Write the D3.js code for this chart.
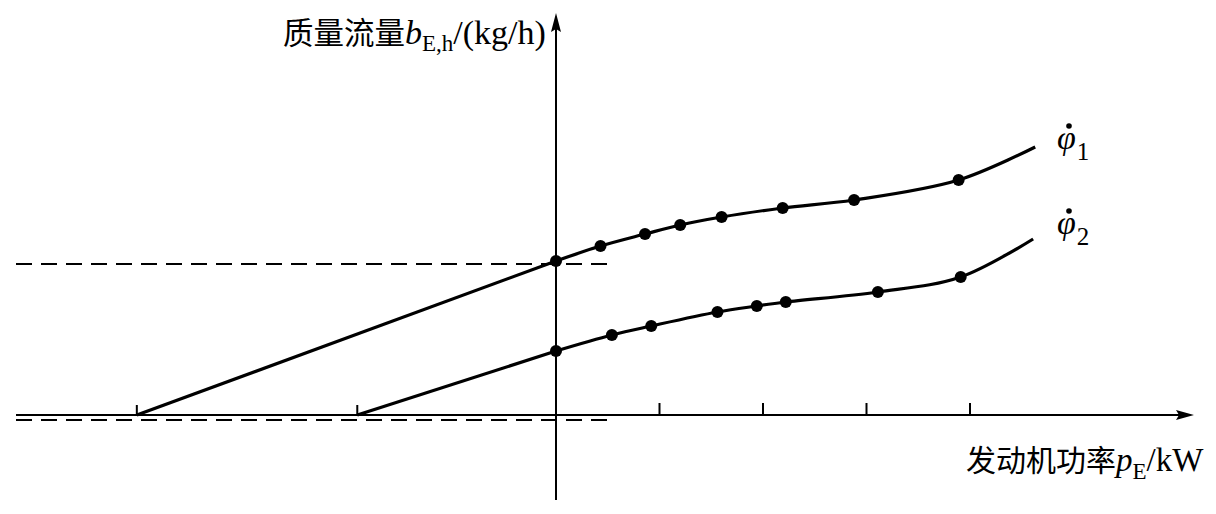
<!DOCTYPE html>
<html><head><meta charset="utf-8">
<script src="https://cdn.jsdelivr.net/npm/d3@7/dist/d3.min.js"></script>
<style>body{margin:0;background:#fff}svg{display:block}</style>
</head><body>
<script>
// data (arbitrary units; x: power, y: mass flow)
const ticksX = [1, 2, 3, 4];
const curve1Start = [-4.05, 0];
const curve1X = [0, 0.43, 0.86, 1.20, 1.60, 2.19, 2.88, 3.89, 4.63];
const curve1Y = [3.08, 3.38, 3.62, 3.80, 3.96, 4.14, 4.30, 4.70, 5.36];
const curve1Dots = [0, 1, 2, 3, 4, 5, 6, 7];
const curve2Start = [-1.92, 0];
const curve2X = [0, 0.54, 0.92, 1.56, 1.94, 2.22, 3.11, 3.91, 4.61];
const curve2Y = [1.28, 1.60, 1.78, 2.06, 2.18, 2.26, 2.46, 2.76, 3.52];
const curve2Dots = [0, 1, 2, 3, 4, 5, 6, 7];
const dashLevels = [3.02, -0.1];

const W = 1216, H = 514;
const svg = d3.select("body").append("svg").attr("width", W).attr("height", H);
const x = d3.scaleLinear().domain([0, 1]).range([556, 659.5]);
const y = d3.scaleLinear().domain([0, 1]).range([415, 365]);

// dashed reference lines
dashLevels.forEach(v => {
  svg.append("line").attr("x1", 16).attr("x2", x(0.54))
    .attr("y1", y(v)).attr("y2", y(v))
    .attr("stroke", "#000").attr("stroke-width", 2).attr("stroke-dasharray", "16,9");
});

// axes
const xAxisG = svg.append("g").attr("transform", `translate(0,${y(0)})`);
xAxisG.append("line").attr("x1", 16).attr("x2", 1185).attr("stroke", "#000").attr("stroke-width", 2);
xAxisG.append("path").attr("d", "M1194,0 L1176,-5 L1179,0 L1176,5 Z").attr("fill", "#000");
ticksX.forEach(t => {
  xAxisG.append("line").attr("x1", x(t)).attr("x2", x(t)).attr("y1", 0).attr("y2", -12)
    .attr("stroke", "#000").attr("stroke-width", 2);
});
const yAxisG = svg.append("g").attr("transform", `translate(${x(0)},0)`);
yAxisG.append("line").attr("y1", 500).attr("y2", 24).attr("stroke", "#000").attr("stroke-width", 2);
yAxisG.append("path").attr("d", "M0,13 L-5,32 L0,29 L5,32 Z").attr("fill", "#000");

// curves
const smooth = d3.line().x(d => x(d[0])).y(d => y(d[1])).curve(d3.curveCatmullRom.alpha(0.5));
const straight = d3.line().x(d => x(d[0])).y(d => y(d[1]));
function drawCurve(start, xs, ys, dots) {
  const pts = xs.map((v, i) => [v, ys[i]]);
  svg.append("path").attr("d", straight([start, pts[0]])).attr("fill", "none")
    .attr("stroke", "#000").attr("stroke-width", 3.2);
  svg.append("path").attr("d", smooth(pts)).attr("fill", "none")
    .attr("stroke", "#000").attr("stroke-width", 3.2);
  svg.append("line").attr("x1", x(start[0])).attr("x2", x(start[0]))
    .attr("y1", y(0)).attr("y2", y(0) - 10).attr("stroke", "#000").attr("stroke-width", 2);
  svg.selectAll(null).data(dots.map(i => pts[i])).enter().append("circle")
    .attr("cx", d => x(d[0])).attr("cy", d => y(d[1])).attr("r", 6).attr("fill", "#000");
}
drawCurve(curve1Start, curve1X, curve1Y, curve1Dots);
drawCurve(curve2Start, curve2X, curve2Y, curve2Dots);

// labels
const cjk = "'Noto Sans CJK SC', sans-serif";
const serif = "'Liberation Serif', 'Times New Roman', serif";
const yl = svg.append("text").attr("x", 283).attr("y", 44).attr("font-size", 30.5).attr("fill", "#000");
yl.append("tspan").attr("font-family", cjk).text("质量流量");
yl.append("tspan").attr("font-family", serif).attr("font-style", "italic").attr("font-size", 34).text("b");
yl.append("tspan").attr("font-family", serif).attr("font-size", 23).attr("dy", 7).text("E,h");
yl.append("tspan").attr("font-family", serif).attr("font-size", 34).attr("dy", -7).text("/(kg/h)");

const xl = svg.append("text").attr("x", 966).attr("y", 471).attr("font-size", 30).attr("fill", "#000");
xl.append("tspan").attr("font-family", cjk).text("发动机功率");
xl.append("tspan").attr("font-family", serif).attr("font-style", "italic").attr("font-size", 33).text("p");
xl.append("tspan").attr("font-family", serif).attr("font-size", 23).attr("dy", 8).text("E");
xl.append("tspan").attr("font-family", serif).attr("font-size", 33).attr("dy", -8).text("/kW");

function phiLabel(px, py, sub) {
  const t = svg.append("text").attr("x", px).attr("y", py).attr("font-family", serif).attr("fill", "#000");
  t.append("tspan").attr("font-style", "italic").attr("font-size", 34).text("φ");
  t.append("tspan").attr("font-size", 25).attr("dy", 11).attr("dx", 1).text(sub);
  svg.append("circle").attr("cx", px + 12).attr("cy", py - 23).attr("r", 2.8).attr("fill", "#000");
}
phiLabel(1057, 149, "1");
phiLabel(1057, 234, "2");
</script>
</body></html>
